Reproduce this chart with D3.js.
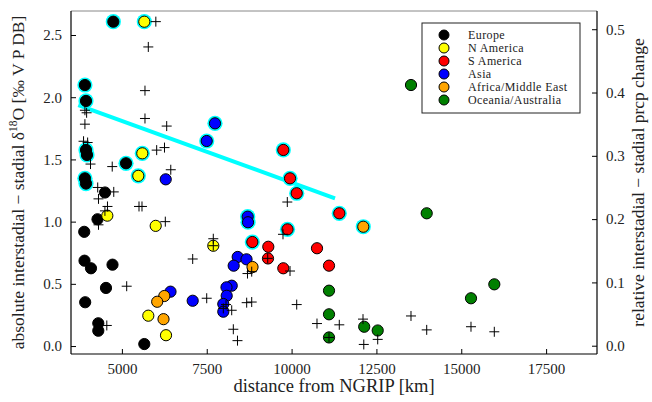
<!DOCTYPE html>
<html>
<head>
<meta charset="utf-8">
<script src="https://cdn.jsdelivr.net/npm/d3@7"></script>
<style>
  body { margin: 0; background: #fff; }
  text { font-family: "Liberation Serif", "DejaVu Serif", serif; }
</style>
</head>
<body>
<div id="chart"></div>
<script>
// chart size
var svgWidth = 652;
var svgHeight = 402;
var margin = { top: 11, right: 55, bottom: 48, left: 71 };
var chartWidth = svgWidth - margin.left - margin.right;
var chartHeight = svgHeight - margin.top - margin.bottom;

// regions (legend order) and their colours
var regions = ["Europe", "N America", "S America", "Asia", "Africa/Middle East", "Oceania/Australia"];
var regionColors = ["#000000", "#ffff00", "#ff0000", "#0000ff", "#ffa500", "#008000"];

// circles: [distance km, d18O change, significant]
var europe = [
  [4747, 2.607, 1], [3910, 2.098, 1], [3942, 1.970, 1], [3942, 1.576, 1], [3971, 1.536, 1],
  [5121, 1.469, 1], [3910, 1.348, 1], [3942, 1.306, 1], [4502, 1.234, 0], [4281, 1.019, 0],
  [3890, 0.918, 0], [3898, 0.686, 0], [4089, 0.625, 0], [4723, 0.654, 0], [4531, 0.467, 0],
  [3918, 0.352, 0], [4304, 0.183, 0], [4304, 0.123, 0], [5660, 0.016, 0]
];
var nAmerica = [
  [5660, 2.607, 1], [5601, 1.549, 1], [5483, 1.368, 1], [4570, 1.048, 0], [5996, 0.966, 0],
  [7693, 0.806, 0], [5778, 0.244, 0], [6300, 0.087, 0]
];
var sAmerica = [
  [9756, 1.576, 1], [9954, 1.348, 1], [10151, 1.228, 1], [11406, 1.067, 1], [9880, 0.938, 1],
  [8843, 0.836, 1], [9314, 0.798, 0], [10749, 0.786, 0], [9305, 0.704, 0], [11103, 0.646, 0],
  [9756, 0.625, 0]
];
var asia = [
  [7743, 1.790, 1], [7499, 1.648, 1], [8707, 1.040, 1], [8716, 0.995, 1], [6291, 1.340, 0],
  [8412, 0.716, 0], [8672, 0.697, 0], [8294, 0.646, 0], [6432, 0.437, 0], [7086, 0.364, 0],
  [8236, 0.485, 0], [8082, 0.472, 0], [8088, 0.404, 0], [7988, 0.338, 0], [7988, 0.276, 0]
];
var africa = [
  [12113, 0.959, 1], [8849, 0.635, 0], [6249, 0.402, 0], [6040, 0.356, 0], [6226, 0.216, 0]
];
var oceania = [
  [13519, 2.098, 0], [13982, 1.067, 0], [11103, 0.445, 0], [11103, 0.255, 0], [11103, 0.069, 0],
  [12140, 0.155, 0], [12538, 0.125, 0], [15287, 0.384, 0], [15974, 0.496, 0]
];
var regionData = [europe, nAmerica, sAmerica, asia, africa, oceania];

// plus markers: [distance km, relative prcp change] (right axis)
var prcp = [
  [6000, 0.512], [5778, 0.472], [5680, 0.403], [3910, 0.372], [3960, 0.368], [3910, 0.350],
  [5680, 0.359], [6320, 0.347], [3870, 0.323], [3990, 0.321], [6025, 0.309], [6255, 0.313],
  [4075, 0.287], [4715, 0.283], [6440, 0.278], [4287, 0.250], [4760, 0.243], [4310, 0.232],
  [4575, 0.220], [4500, 0.213], [5504, 0.220], [5592, 0.220], [4310, 0.191], [6279, 0.196],
  [5141, 0.094], [4555, 0.032], [7693, 0.169], [7693, 0.158], [9297, 0.138], [7086, 0.137],
  [8701, 0.114], [8825, 0.117], [7499, 0.075], [8068, 0.065], [7988, 0.059], [8236, 0.056],
  [8677, 0.068], [8825, 0.069], [8283, 0.026], [8406, 0.008], [9747, 0.176], [9874, 0.227],
  [9954, 0.118], [10151, 0.065], [10749, 0.035], [11406, 0.033], [12105, 0.042], [12128, 0.002],
  [12538, 0.010], [11103, 0.013], [13519, 0.047], [13982, 0.025], [15287, 0.030], [15974, 0.022]
];

// regression line of significant points
var trendX = [3715, 11280];
var trendY = [1.937, 1.187];

// ticks
var xTicks = [5000, 7500, 10000, 12500, 15000, 17500];
var yTicks = [0, 0.5, 1.0, 1.5, 2.0, 2.5];
var y2Ticks = [0, 0.1, 0.2, 0.3, 0.4, 0.5];

var svg = d3.select("#chart")
  .append("svg")
  .attr("width", svgWidth)
  .attr("height", svgHeight);

var chartGroup = svg.append("g")
  .attr("transform", `translate(${margin.left}, ${margin.top})`);

// scales
var xScale = d3.scaleLinear().domain([3500, 19000]).range([0, chartWidth]);
var yScale = d3.scaleLinear().domain([-0.064, 2.693]).range([chartHeight, 0]);
var y2Scale = d3.scaleLinear().domain([-0.0131, 0.5288]).range([chartHeight, 0]);

// axes, ticks pointing inward
var bottomAxis = d3.axisBottom(xScale).tickValues(xTicks).tickSize(-5).tickPadding(9).tickFormat(d3.format("d"));
var leftAxis = d3.axisLeft(yScale).tickValues(yTicks).tickSize(-5).tickPadding(9).tickFormat(d3.format(".1f"));
var rightAxis = d3.axisRight(y2Scale).tickValues(y2Ticks).tickSize(-5).tickPadding(9).tickFormat(d3.format(".1f"));

function styleAxis(g) {
  g.select(".domain").remove();
  g.selectAll("line").attr("stroke", "#000");
  g.selectAll("text").attr("font-size", 15).attr("fill", "#222")
    .style("font-family", "'Liberation Serif', serif");
}

chartGroup.append("g").attr("transform", `translate(0, ${chartHeight})`).call(bottomAxis).call(styleAxis);
chartGroup.append("g").call(leftAxis).call(styleAxis);
chartGroup.append("g").attr("transform", `translate(${chartWidth}, 0)`).call(rightAxis).call(styleAxis);

// frame
chartGroup.append("line").attr("x1", 0).attr("x2", chartWidth).attr("y1", 0).attr("y2", 0)
  .attr("stroke", "#888").attr("stroke-width", 1);
chartGroup.append("line").attr("x1", 0).attr("x2", chartWidth).attr("y1", chartHeight).attr("y2", chartHeight)
  .attr("stroke", "#000").attr("stroke-width", 1.2);
chartGroup.append("line").attr("x1", 0).attr("x2", 0).attr("y1", 0).attr("y2", chartHeight)
  .attr("stroke", "#000").attr("stroke-width", 1.2);
chartGroup.append("line").attr("x1", chartWidth).attr("x2", chartWidth).attr("y1", 0).attr("y2", chartHeight)
  .attr("stroke", "#000").attr("stroke-width", 1.2);

// trend line
chartGroup.append("line")
  .attr("x1", xScale(trendX[0])).attr("y1", yScale(trendY[0]))
  .attr("x2", xScale(trendX[1])).attr("y2", yScale(trendY[1]))
  .attr("stroke", "#00ffff").attr("stroke-width", 4);

// circles
regionData.forEach(function(pts, i) {
  var g = chartGroup.append("g");
  g.selectAll(".halo")
    .data(pts.filter(d => d[2] === 1))
    .enter()
    .append("circle")
    .attr("cx", d => xScale(d[0]))
    .attr("cy", d => yScale(d[1]))
    .attr("r", 7.6)
    .attr("fill", "#00ffff");
  g.selectAll(".dot")
    .data(pts)
    .enter()
    .append("circle")
    .attr("cx", d => xScale(d[0]))
    .attr("cy", d => yScale(d[1]))
    .attr("r", 5.6)
    .attr("fill", regionColors[i])
    .attr("stroke", "#000")
    .attr("stroke-width", 1);
});

// plus markers
chartGroup.selectAll(".plus")
  .data(prcp)
  .enter()
  .append("path")
  .attr("d", d => {
    var x = xScale(d[0]), y = y2Scale(d[1]);
    return `M${x - 5},${y}H${x + 5}M${x},${y - 5}V${y + 5}`;
  })
  .attr("stroke", "#000")
  .attr("stroke-width", 1)
  .attr("fill", "none");

// legend
var legend = svg.append("g").attr("transform", "translate(422, 23)");
legend.append("rect")
  .attr("width", 158).attr("height", 90)
  .attr("fill", "#fff").attr("stroke", "#222").attr("stroke-width", 1);
regions.forEach(function(name, i) {
  legend.append("circle")
    .attr("cx", 22).attr("cy", 12 + i * 13)
    .attr("r", 5).attr("fill", regionColors[i])
    .attr("stroke", "#000").attr("stroke-width", 1);
  legend.append("text")
    .attr("x", 46).attr("y", 12 + i * 13 + 4)
    .attr("font-size", 12).attr("letter-spacing", 0.4).attr("fill", "#222")
    .text(name);
});

// axis labels
svg.append("text")
  .attr("x", margin.left + chartWidth / 2).attr("y", 392)
  .attr("text-anchor", "middle").attr("font-size", 18.5).attr("fill", "#222")
  .text("distance from NGRIP [km]");

var yLabel = svg.append("text")
  .attr("transform", `translate(24, ${margin.top + chartHeight / 2}) rotate(-90)`)
  .attr("text-anchor", "middle").attr("font-size", 17.5).attr("fill", "#222");
yLabel.append("tspan").text("absolute interstadial \u2212 stadial \u03b4");
yLabel.append("tspan").attr("font-size", 11.5).attr("dy", -7).text("18");
yLabel.append("tspan").attr("dy", 7).text("O [\u2030 V P DB]");

svg.append("text")
  .attr("transform", `translate(644, ${margin.top + chartHeight / 2}) rotate(-90)`)
  .attr("text-anchor", "middle").attr("font-size", 17.5).attr("fill", "#222")
  .text("relative interstadial \u2212 stadial prcp change");
</script>
</body>
</html>
